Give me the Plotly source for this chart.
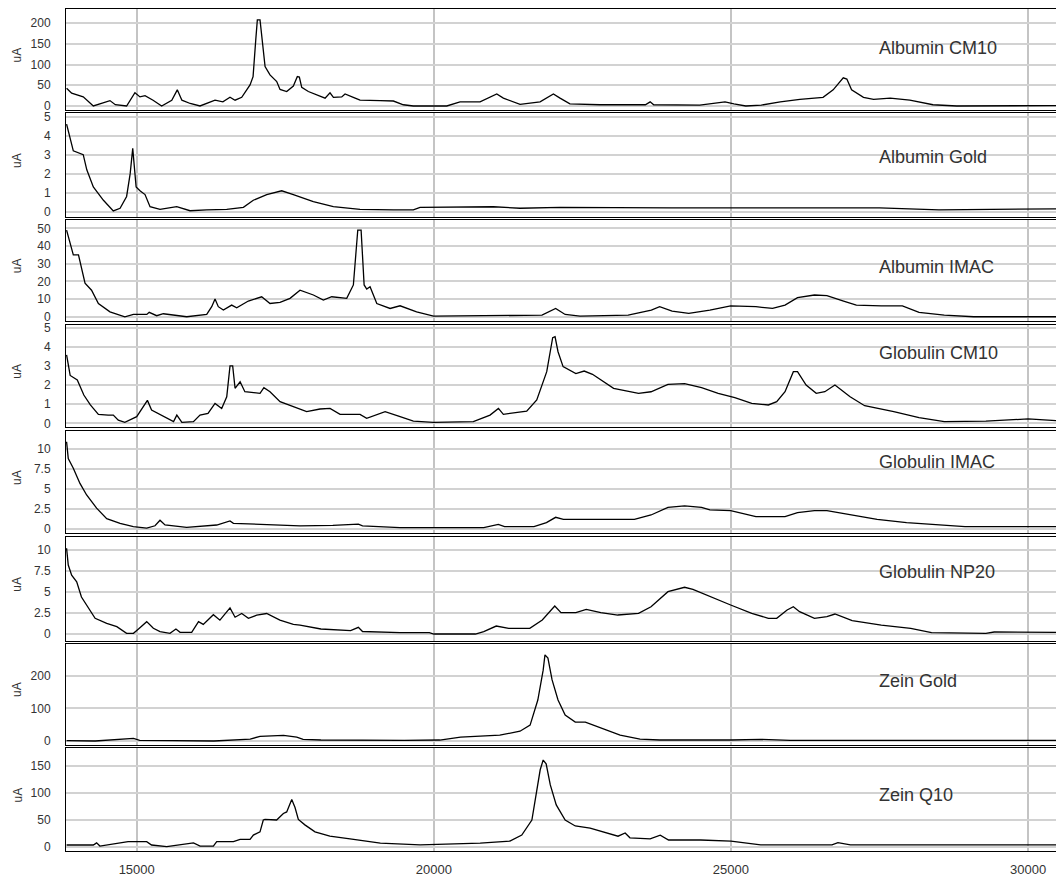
import plotly.graph_objects as go

# ---------------- data (m/z, uA) ----------------
panel_names = ["Albumin CM10", "Albumin Gold", "Albumin IMAC", "Globulin CM10",
               "Globulin IMAC", "Globulin NP20", "Zein Gold", "Zein Q10"]

albumin_cm10_mz = [13820, 13905, 14100, 14270, 14550, 14640, 14830, 14970, 15055, 15140, 15275, 15420,
                   15590, 15683, 15760, 15900, 16065, 16318, 16450, 16570, 16655, 16767, 16907, 16958,
                   17003, 17030, 17075, 17114, 17160, 17243, 17356, 17412, 17524, 17636, 17703, 17737,
                   17777, 17888, 18030, 18170, 18253, 18310, 18450, 18506, 18645, 18758, 19095, 19320,
                   19487, 19655, 20217, 20441, 20778, 21059, 21170, 21451, 21788, 22012, 22124, 22290,
                   22795, 23560, 23640, 23700, 24475, 24900, 25050, 25250, 25510, 25830, 26160, 26550,
                   26720, 26890, 26950, 27030, 27230, 27400, 27680, 28010, 28400, 28800, 30470]
albumin_cm10_ua = [43, 31, 22, 0, 13, 3, 0, 32, 22, 25, 14, 0,
                   14, 39, 14, 6, 0, 14, 10, 21, 14, 21, 51, 71,
                   159, 208, 208, 152, 95, 75, 59, 40, 35, 48, 71, 70,
                   45, 35, 27, 19, 32, 21, 22, 29, 21, 14, 13, 12,
                   3, 0, 0, 10, 10, 29, 19, 4, 10, 29, 19, 5,
                   3, 3, 10, 3, 2, 10, 5, 0, 2, 10, 16, 21,
                   39, 68, 65, 39, 21, 16, 19, 14, 3, 0, 1]

albumin_gold_mz = [13820, 13880, 13933, 14100, 14160, 14270, 14440, 14606, 14720, 14830, 14890, 14933,
                   14955, 14990, 15055, 15140, 15224, 15392, 15673, 15897, 16178, 16515, 16795, 16962,
                   17188, 17440, 17636, 17972, 18309, 18758, 19319, 19655, 19768, 21002, 21451, 22124,
                   24000, 26000, 27500, 28500, 29500, 30470]
albumin_gold_ua = [4.6, 3.8, 3.2, 3.0, 2.2, 1.3, 0.6, 0.04, 0.18, 0.8, 2.0, 3.33,
                   2.4, 1.3, 1.1, 0.9, 0.26, 0.12, 0.26, 0.05, 0.09, 0.12, 0.23, 0.6,
                   0.9, 1.1, 0.9, 0.53, 0.26, 0.12, 0.09, 0.09, 0.23, 0.26, 0.18, 0.23,
                   0.2, 0.22, 0.2, 0.1, 0.12, 0.15]

albumin_imac_mz = [13820, 13880, 13933, 14020, 14130, 14240, 14355, 14550, 14800, 14945, 15170, 15210,
                   15336, 15448, 15841, 16178, 16262, 16318, 16373, 16458, 16598, 16683, 16878, 17103,
                   17243, 17412, 17580, 17748, 17973, 18141, 18282, 18534, 18646, 18720, 18776, 18827,
                   18871, 18927, 19040, 19264, 19432, 19710, 19995, 20840, 21820, 22050, 22210, 22460,
                   23270, 23660, 23800, 24010, 24290, 24645, 24995, 25420, 25700, 25910, 26120, 26405,
                   26615, 26895, 27110, 27530, 27885, 28165, 28590, 29085, 30470]
albumin_imac_ua = [49, 40.6, 35, 35, 19, 15, 7.5, 2.8, 0, 1.3, 1.3, 2.5,
                   0.6, 1.7, 0, 1.3, 5.7, 10, 5.7, 3.8, 6.6, 5.1, 8.9, 11.3,
                   7.5, 8.1, 10.4, 15, 12.3, 9.4, 11.3, 10.4, 18, 49, 49, 18,
                   15.7, 17, 7.5, 4.7, 6.2, 2.8, 0.4, 0.6, 0.9, 4.7, 1.3, 0.4,
                   0.9, 3.8, 5.7, 3.2, 1.9, 3.8, 6.2, 5.7, 4.7, 6.6, 10.8, 12.3,
                   11.9, 8.9, 6.6, 6.2, 6.2, 2.5, 0.9, 0, 0]

globulin_cm10_mz = [13820, 13880, 14000, 14110, 14220, 14355, 14520, 14606, 14690, 14800, 15000, 15100,
                    15180, 15250, 15450, 15620, 15675, 15760, 15955, 16065, 16200, 16318, 16430, 16515,
                    16570, 16615, 16655, 16740, 16820, 17075, 17140, 17243, 17412, 17636, 17860, 18085,
                    18253, 18422, 18758, 18870, 19180, 19432, 19656, 19993, 20665, 20946, 21087, 21170,
                    21563, 21732, 21900, 22000, 22040, 22090, 22175, 22390, 22530, 22670, 22810, 23025,
                    23445, 23655, 23940, 24220, 24505, 24785, 25065, 25350, 25630, 25770, 25910, 26050,
                    26120, 26265, 26435, 26580, 26750, 27005, 27250, 27740, 28165, 28590, 29290, 30000,
                    30470]
globulin_cm10_ua = [3.57, 2.5, 2.26, 1.48, 0.96, 0.47, 0.43, 0.43, 0.17, 0.05, 0.35, 0.8,
                    1.2, 0.7, 0.35, 0.09, 0.43, 0.05, 0.09, 0.43, 0.52, 1.04, 0.78, 1.39,
                    3.0, 3.0, 1.83, 2.17, 1.65, 1.57, 1.86, 1.65, 1.13, 0.87, 0.61, 0.75,
                    0.78, 0.47, 0.47, 0.26, 0.61, 0.35, 0.12, 0.05, 0.09, 0.43, 0.78, 0.47,
                    0.64, 1.22, 2.7, 4.47, 4.52, 3.74, 2.96, 2.6, 2.73, 2.56, 2.26, 1.83,
                    1.57, 1.65, 2.03, 2.07, 1.86, 1.57, 1.34, 1.04, 0.96, 1.13, 1.65, 2.7,
                    2.7, 2.0, 1.57, 1.65, 2.0, 1.39, 0.92, 0.61, 0.3, 0.09, 0.12, 0.23,
                    0.14]

globulin_imac_mz = [13820, 13848, 13933, 14045, 14157, 14325, 14495, 14720, 14943, 15168, 15308, 15392,
                    15476, 15840, 16346, 16570, 16627, 16962, 17187, 17748, 18300, 18730, 18800, 19430,
                    20840, 20950, 21085, 21190, 21685, 21895, 22050, 22180, 22530, 23020, 23375, 23655,
                    23940, 24220, 24505, 24645, 24995, 25420, 25910, 26120, 26405, 26615, 27040, 27460,
                    27955, 28445, 28940, 30470]
globulin_imac_ua = [10.9, 8.8, 7.6, 5.7, 4.25, 2.6, 1.3, 0.7, 0.3, 0.1, 0.4, 1.1,
                    0.5, 0.2, 0.5, 1.0, 0.7, 0.6, 0.6, 0.4, 0.45, 0.6, 0.4, 0.17,
                    0.17, 0.38, 0.58, 0.29, 0.29, 0.8, 1.46, 1.21, 1.21, 1.13, 1.21, 1.75,
                    2.7, 2.88, 2.7, 2.38, 2.3, 1.54, 1.54, 2.04, 2.3, 2.3, 1.75, 1.21,
                    0.8, 0.5, 0.29, 0.29]

globulin_np20_mz = [13820, 13848, 13905, 13990, 14070, 14185, 14300, 14495, 14665, 14830, 14945, 15030,
                    15168, 15280, 15392, 15560, 15660, 15730, 15925, 16040, 16120, 16290, 16400, 16570,
                    16655, 16767, 16880, 17020, 17187, 17410, 17636, 17748, 18100, 18600, 18730, 18800,
                    19430, 19925, 20000, 20700, 20840, 21050, 21260, 21615, 21825, 22035, 22140, 22390,
                    22565, 22810, 23095, 23445, 23655, 23940, 24220, 24360, 24645, 24995, 25350, 25630,
                    25770, 25945, 26050, 26155, 26405, 26615, 26750, 27040, 27530, 28025, 28375, 29290,
                    29430, 30470]
globulin_np20_ua = [10.2, 8.2, 7.0, 6.2, 4.4, 3.06, 1.87, 1.27, 0.87, 0.08, 0.08, 0.6,
                    1.47, 0.68, 0.28, 0.08, 0.6, 0.2, 0.2, 1.47, 1.15, 2.3, 1.65, 3.1,
                    2.0, 2.44, 1.87, 2.24, 2.44, 1.65, 1.15, 1.07, 0.6, 0.4, 0.8, 0.3,
                    0.16, 0.16, 0.0, 0.0, 0.28, 0.95, 0.67, 0.67, 1.67, 3.33, 2.54, 2.54,
                    2.94, 2.54, 2.26, 2.46, 3.25, 5.04, 5.56, 5.3, 4.44, 3.45, 2.46, 1.87,
                    1.87, 2.86, 3.25, 2.66, 1.87, 2.06, 2.38, 1.59, 1.07, 0.67, 0.16, 0.08,
                    0.24, 0.2]

zein_gold_mz = [13820, 14300, 14945, 15050, 15600, 16300, 16910, 17075, 17470, 17693, 17800, 18100,
                19500, 20100, 20450, 20780, 21110, 21450, 21620, 21750, 21840, 21870, 21920, 21990,
                22090, 22210, 22380, 22550, 22800, 23135, 23470, 23800, 25000, 25500, 26000, 28000,
                30470]
zein_gold_ua = [1, 0, 8, 2, 1, 0, 6, 14, 17, 12, 5, 3,
                2, 3, 12, 15, 18, 30, 49, 126, 218, 265, 255, 188,
                126, 80, 58, 58, 40, 18, 6, 3, 3, 5, 2, 2,
                2]

zein_q10_mz = [13820, 14270, 14325, 14380, 14855, 15168, 15250, 15505, 15955, 16067, 16290, 16346,
               16627, 16740, 16907, 16963, 17075, 17130, 17158, 17355, 17468, 17524, 17609, 17664,
               17720, 17830, 18000, 18250, 18590, 19100, 19770, 20290, 20780, 21280, 21480, 21650,
               21740, 21790, 21840, 21890, 21960, 22060, 22210, 22380, 22630, 22970, 23100, 23220,
               23300, 23640, 23810, 23950, 24490, 25000, 25500, 26700, 26800, 27010, 30470]
zein_q10_ua = [3.7, 3.7, 7.7, 1.8, 9.9, 9.9, 3.7, 0.6, 7.7, 1.8, 1.8, 9.9,
               9.9, 14, 14, 22, 28, 50, 51, 50, 62, 65, 88, 73,
               51, 41, 28, 20, 15, 7, 4, 5, 7, 11, 22, 50,
               105, 143, 161, 154, 115, 78, 50, 39, 35, 24, 20, 26,
               17, 15, 22, 13, 13, 11, 4, 4, 8, 4, 4]

ytick_values = [[0, 50, 100, 150, 200], [0, 1, 2, 3, 4, 5], [0, 10, 20, 30, 40, 50], [0, 1, 2, 3, 4, 5],
                [0, 2.5, 5, 7.5, 10], [0, 2.5, 5, 7.5, 10], [0, 100, 200], [0, 50, 100, 150]]
xtick_values = [15000, 20000, 25000, 30000]
y_title = "uA"

series = [(albumin_cm10_mz, albumin_cm10_ua), (albumin_gold_mz, albumin_gold_ua),
          (albumin_imac_mz, albumin_imac_ua), (globulin_cm10_mz, globulin_cm10_ua),
          (globulin_imac_mz, globulin_imac_ua), (globulin_np20_mz, globulin_np20_ua),
          (zein_gold_mz, zein_gold_ua), (zein_q10_mz, zein_q10_ua)]

# ---------------- layout geometry (pixels) ----------------
W, H = 1056, 883
L = 66
panel_px = [(9, 110), (113, 217), (219.5, 321), (324.5, 427), (431, 533), (536.5, 641), (643.5, 744.5), (748, 851)]
y_ranges = [[-9.7, 234.3], [-0.28, 5.19], [-2.4, 55.0], [-0.19, 5.16], [-0.5, 12.25], [-0.83, 11.6],
            [-10.8, 300], [-7.4, 183.3]]
label_y_px = [48, 157, 267, 353, 462, 572, 681, 795]
x_range = [13810, 30470]

FONT = "Liberation Sans, Arial, sans-serif"
fig = go.Figure()
layout = dict(width=W, height=H, margin=dict(l=L, r=0, t=0, b=0), showlegend=False,
              paper_bgcolor="white", plot_bgcolor="white", template="none",
              font=dict(family=FONT, color="#333333"))
annotations = []

for i, ((mz, ua), name) in enumerate(zip(series, panel_names)):
    n = i + 1
    xa = "x" if n == 1 else f"x{n}"
    ya = "y" if n == 1 else f"y{n}"
    fig.add_trace(go.Scatter(x=mz, y=ua, mode="lines", xaxis=xa, yaxis=ya,
                             line=dict(color="black", width=1.3), hoverinfo="x+y"))
    top, bot = panel_px[i]
    dom = [1 - bot / H, 1 - top / H]
    layout[f"xaxis{n}" if n > 1 else "xaxis"] = dict(
        domain=[0, 1], anchor=ya, range=x_range, tickvals=xtick_values,
        ticktext=[str(v) for v in xtick_values],
        showticklabels=(n == 8), ticks="", ticklabelstandoff=6,
        showgrid=True, gridcolor="#c4c4c4", gridwidth=2,
        showline=True, linecolor="black", linewidth=1, mirror=True, zeroline=False,
        tickfont=dict(size=13, family=FONT, color="#333333"), automargin=False,
        **({"matches": "x"} if n > 1 else {}))
    tv = ytick_values[i]
    layout[f"yaxis{n}" if n > 1 else "yaxis"] = dict(
        domain=dom, anchor=xa, range=y_ranges[i], tickvals=tv,
        ticktext=[("%g" % v) for v in tv], ticks="", ticklabelstandoff=12,
        showgrid=True, gridcolor="#d2d2d2", gridwidth=1.5,
        showline=True, linecolor="black", linewidth=1, mirror=False, zeroline=False,
        tickfont=dict(size=12, family=FONT, color="#333333"), automargin=False)
    annotations.append(dict(text=y_title, xref="paper", yref="paper", x=(17 - L) / (W - L),
                            y=1 - ((top + bot) / 2 - 4) / H, textangle=-90, showarrow=False,
                            xanchor="center", yanchor="middle",
                            font=dict(size=12, family=FONT, color="#333333")))
    annotations.append(dict(text=name, xref="paper", yref="paper", x=(877 - L) / (W - L),
                            y=1 - label_y_px[i] / H, showarrow=False, xanchor="left", yanchor="middle",
                            font=dict(size=18, family=FONT, color="#333333")))

layout["annotations"] = annotations
fig.update_layout(**layout)
fig.write_html("out.html")
